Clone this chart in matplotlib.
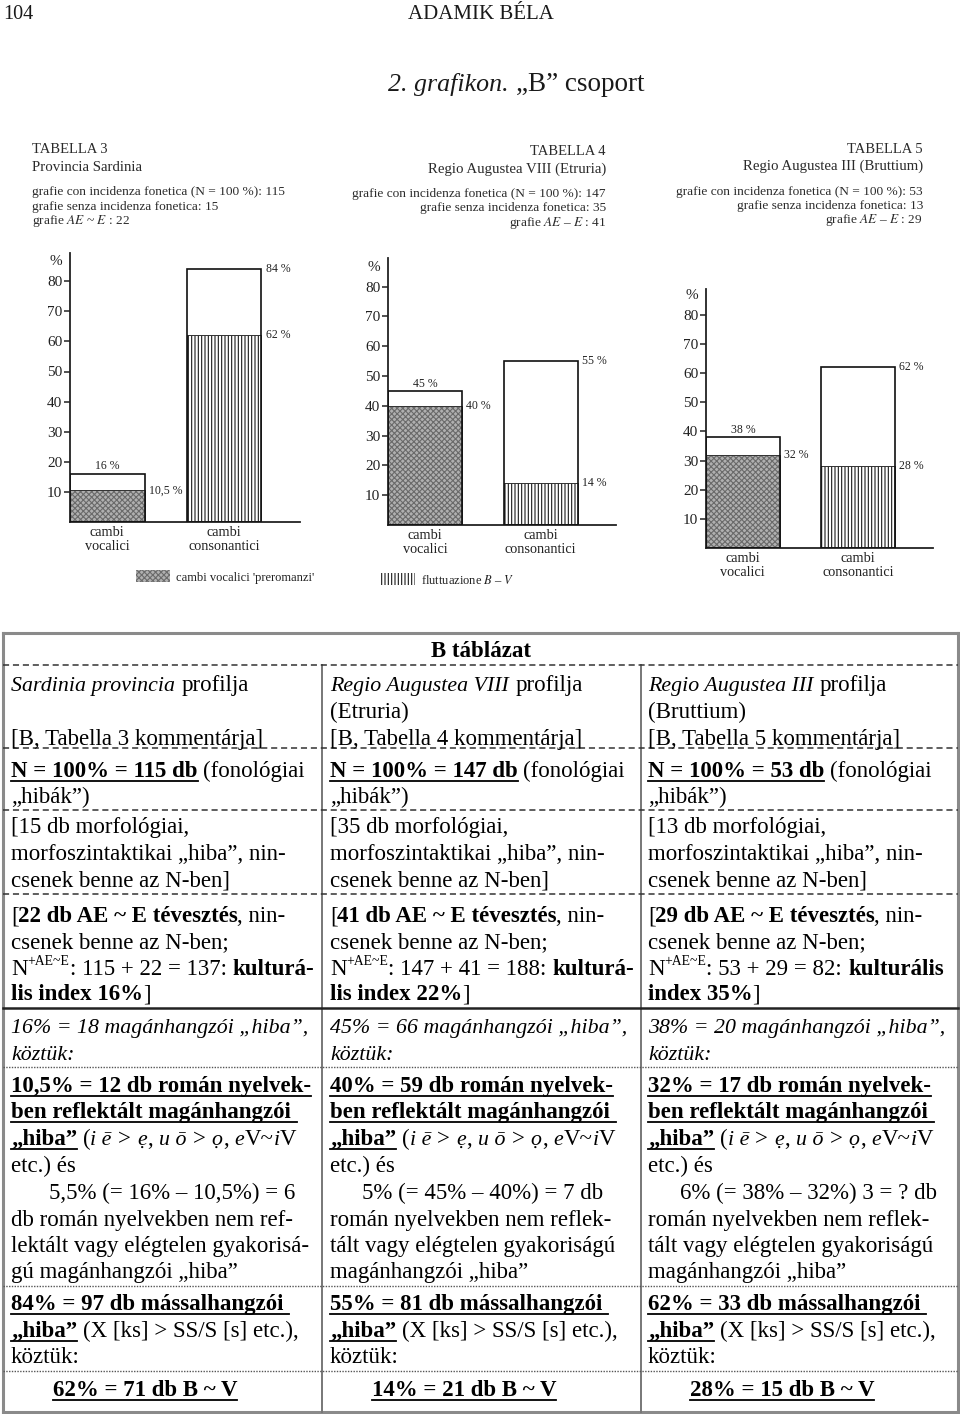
import matplotlib
matplotlib.use('Agg')
import matplotlib.pyplot as plt
from matplotlib.patches import Patch
from matplotlib.lines import Line2D

plt.rcParams['font.family'] = ['Liberation Serif', 'DejaVu Serif']
plt.rcParams['mathtext.fontset'] = 'stix'
plt.rcParams['hatch.linewidth'] = 0.8

# ---------------- data ----------------
categories = ['cambi\nvocalici', 'cambi\nconsonantici']
yticks = [10, 20, 30, 40, 50, 60, 70, 80]
tab_titles = ['TABELLA 3', 'TABELLA 4', 'TABELLA 5']
regions = ['Provincia Sardinia', 'Regio Augustea VIII (Etruria)', 'Regio Augustea III (Bruttium)']
n_fonetica = [115, 147, 53]
n_senza = [15, 35, 13]
n_ae = [22, 41, 29]
ae_sign = ['~', '–', '–']
total_vals = [[16, 84], [45, 55], [38, 62]]
sub_vals = [[10.5, 62], [40, 14], [32, 28]]
legend_labels = ["cambi vocalici 'preromanzi'", 'fluttuazione $B$ – $V$']

Q1, Q2 = '\u201e', '\u201d'
HV = [(Q1 + 'hiba' + Q2, 'bu'), (' (', ''), ('i ē', 'i'), (' > ', ''), ('ẹ', 'i'), (', ', ''),
      ('u ō', 'i'), (' > ', ''), ('ọ', 'i'), (', ', ''), ('e', 'i'), ('V~', ''), ('i', 'i'), ('V', '')]

col1 = [
    [('Sardinia provincia', 'i'), (' profilja', '')],
    [],
    [('[B, Tabella 3 kommentárja]', '')],
    [('N = 100% = 115 db', 'bu'), (' (fonológiai', '')],
    [(Q1 + 'hibák' + Q2 + ')', '')],
    [('[15 db morfológiai,', '')],
    [('morfoszintaktikai ' + Q1 + 'hiba' + Q2 + ', nin-', '')],
    [('csenek benne az N-ben]', '')],
    [('[', ''), ('22 db AE ~ E tévesztés', 'b'), (', nin-', '')],
    [('csenek benne az N-ben;', '')],
    [('N', ''), ('+AE~E', 's'), (': 115 + 22 = 137: ', ''), ('kulturá-', 'b')],
    [('lis index 16%', 'b'), (']', '')],
    [('16% = 18 magánhangzói ' + Q1 + 'hiba' + Q2 + ',', 'i')],
    [('köztük:', 'i')],
    [('10,5% = 12 db román nyelvek-', 'bu')],
    [('ben reflektált magánhangzói ', 'bu')],
    HV,
    [('etc.) és', '')],
    [('5,5% (= 16% – 10,5%) = 6', '')],
    [('db román nyelvekben nem ref-', '')],
    [('lektált vagy elégtelen gyakorisá-', '')],
    [('gú magánhangzói ' + Q1 + 'hiba' + Q2, '')],
    [('84% = 97 db mássalhangzói ', 'bu')],
    [(Q1 + 'hiba' + Q2, 'bu'), (' (X [ks] > SS/S [s] etc.),', '')],
    [('köztük:', '')],
    [('62% = 71 db B ~ V', 'bu')],
]
col2 = [
    [('Regio Augustea VIII', 'i'), (' profilja', '')],
    [('(Etruria)', '')],
    [('[B, Tabella 4 kommentárja]', '')],
    [('N = 100% = 147 db', 'bu'), (' (fonológiai', '')],
    [(Q1 + 'hibák' + Q2 + ')', '')],
    [('[35 db morfológiai,', '')],
    [('morfoszintaktikai ' + Q1 + 'hiba' + Q2 + ', nin-', '')],
    [('csenek benne az N-ben]', '')],
    [('[', ''), ('41 db AE ~ E tévesztés', 'b'), (', nin-', '')],
    [('csenek benne az N-ben;', '')],
    [('N', ''), ('+AE~E', 's'), (': 147 + 41 = 188: ', ''), ('kulturá-', 'b')],
    [('lis index 22%', 'b'), (']', '')],
    [('45% = 66 magánhangzói ' + Q1 + 'hiba' + Q2 + ',', 'i')],
    [('köztük:', 'i')],
    [('40% = 59 db román nyelvek-', 'bu')],
    [('ben reflektált magánhangzói ', 'bu')],
    HV,
    [('etc.) és', '')],
    [('5% (= 45% – 40%) = 7 db', '')],
    [('román nyelvekben nem reflek-', '')],
    [('tált vagy elégtelen gyakoriságú', '')],
    [('magánhangzói ' + Q1 + 'hiba' + Q2, '')],
    [('55% = 81 db mássalhangzói ', 'bu')],
    [(Q1 + 'hiba' + Q2, 'bu'), (' (X [ks] > SS/S [s] etc.),', '')],
    [('köztük:', '')],
    [('14% = 21 db B ~ V', 'bu')],
]
col3 = [
    [('Regio Augustea III', 'i'), (' profilja', '')],
    [('(Bruttium)', '')],
    [('[B, Tabella 5 kommentárja]', '')],
    [('N = 100% = 53 db', 'bu'), (' (fonológiai', '')],
    [(Q1 + 'hibák' + Q2 + ')', '')],
    [('[13 db morfológiai,', '')],
    [('morfoszintaktikai ' + Q1 + 'hiba' + Q2 + ', nin-', '')],
    [('csenek benne az N-ben]', '')],
    [('[', ''), ('29 db AE ~ E tévesztés', 'b'), (', nin-', '')],
    [('csenek benne az N-ben;', '')],
    [('N', ''), ('+AE~E', 's'), (': 53 + 29 = 82: ', ''), ('kulturális', 'b')],
    [('index 35%', 'b'), (']', '')],
    [('38% = 20 magánhangzói ' + Q1 + 'hiba' + Q2 + ',', 'i')],
    [('köztük:', 'i')],
    [('32% = 17 db román nyelvek-', 'bu')],
    [('ben reflektált magánhangzói ', 'bu')],
    HV,
    [('etc.) és', '')],
    [('6% (= 38% – 32%) 3 = ? db', '')],
    [('román nyelvekben nem reflek-', '')],
    [('tált vagy elégtelen gyakoriságú', '')],
    [('magánhangzói ' + Q1 + 'hiba' + Q2, '')],
    [('62% = 33 db mássalhangzói ', 'bu')],
    [(Q1 + 'hiba' + Q2, 'bu'), (' (X [ks] > SS/S [s] etc.),', '')],
    [('köztük:', '')],
    [('28% = 15 db B ~ V', 'bu')],
]
columns = [col1, col2, col3]

# ---------------- layout ----------------
W, H = 960, 1414
fig = plt.figure(figsize=(W / 100, H / 100), dpi=100, facecolor='white')
renderer = fig.canvas.get_renderer()


def FX(x):
    return x / W


def FY(y):
    return 1 - y / H


INK = '#1a1a1a'

# page header
fig.text(FX(3), FY(19), '104', fontsize=14.5, ha='left', va='baseline', color=INK)
fig.text(FX(481), FY(19), 'ADAMIK BÉLA', fontsize=15, ha='center', va='baseline', color=INK)

# ---------- rich text helper ----------
_cache = {}


def tw(s, kw):
    key = (s, tuple(sorted(kw.items())))
    if key not in _cache:
        t = fig.text(0, 0, s, **kw)
        _cache[key] = t.get_window_extent(renderer).width
        t.remove()
    return _cache[key]


def rich(x, y, runs, size, align='left', color='black'):
    items = []
    total = 0.0
    for txt, st in runs:
        sup = 's' in st
        ital = 'i' in st
        fs = size * 0.6 if sup else (size * 0.955 if ital else size)
        kw = dict(fontsize=fs,
                  fontweight='bold' if 'b' in st else 'normal',
                  fontstyle='italic' if ital else 'normal')
        core = txt.strip(' ')
        lead = len(txt) - len(txt.lstrip(' '))
        trail = len(txt) - len(txt.rstrip(' '))
        sw = tw('x x', kw) - tw('xx', kw)
        cw = tw(core, kw) if core else 0.0
        pad = 0.6 if ital else 0.0
        if core == '[':
            pad -= 1.0
        items.append((core, kw, lead * sw, cw, trail * sw + pad, st))
        total += lead * sw + cw + trail * sw + pad
    cur = x - total / 2 if align == 'center' else x
    for core, kw, lw_, cw, tr_, st in items:
        start = cur
        cur += lw_
        if core:
            yy = y - (size * 1.389 * 0.42 if 's' in st else 0)
            fig.text(FX(cur), FY(yy), core, ha='left', va='baseline', color=color, **kw)
        cur += cw + tr_
        if 'u' in st:
            fig.add_artist(Line2D([FX(start), FX(cur)], [FY(y + 3.5)] * 2,
                                  color=color, lw=1.3))


# title
rich(516, 91, [('2. grafikon.', 'i'), (' ' + Q1 + 'B' + Q2 + ' csoport', '')], 19.5, align='center', color=INK)

# ---------------- charts ----------------
chart_px = [(70, 300, 522, 253, 3.01), (388, 616, 525, 258, 2.98), (706, 933, 548, 289, 2.914)]
head_x = [(32, 'left'), (606, 'right'), (923, 'right')]
head_y = [(153, 171, 195, 210, 224), (155, 173, 197, 211, 226), (153, 170, 195, 209, 223)]
HDR = '#2b2b2b'

stip = dict(facecolor='#b0b0b0', edgecolor='#6a6a6a', hatch='xxxxxx', linewidth=0)
vert = dict(facecolor='white', edgecolor='#1a1a1a', hatch='|||||', linewidth=0)

for i in range(3):
    l, r, b, t, sc = chart_px[i]
    ax = fig.add_axes([FX(l), FY(b), (r - l) / W, (b - t) / H])
    ax.set_xlim(-0.32, 1.65)
    ax.set_ylim(0, (b - t) / sc)
    xs = [0, 1]
    ax.bar(xs, total_vals[i], width=0.64, color='white', edgecolor='none', zorder=1)
    ax.bar(xs[0], sub_vals[i][0], width=0.64, zorder=2, **stip)
    ax.bar(xs[1], sub_vals[i][1], width=0.64, zorder=2, **vert)
    ax.bar(xs, sub_vals[i], width=0.64, fill=False, edgecolor='#333333', linewidth=0.7, zorder=3)
    ax.bar(xs, total_vals[i], width=0.64, fill=False, edgecolor='#111111', linewidth=1.2, zorder=4)
    for sp in ('top', 'right'):
        ax.spines[sp].set_visible(False)
    for sp in ('left', 'bottom'):
        ax.spines[sp].set_linewidth(1.3)
        ax.spines[sp].set_color('#222222')
    ax.set_yticks(yticks)
    ax.set_yticklabels([str(v) for v in yticks])
    ax.tick_params(axis='y', direction='out', length=4.5, width=1.1, pad=1, labelsize=11,
                   colors='#222222')
    ax.set_xticks(xs)
    ax.set_xticklabels(categories)
    ax.tick_params(axis='x', length=0, pad=3, labelsize=10.3, colors='#222222')
    for lb in ax.get_xticklabels():
        lb.set_linespacing(1.08)
    ax.annotate('%', xy=(0, 86.5), xycoords=('axes fraction', 'data'), xytext=(-5.5, 0),
                textcoords='offset points', ha='right', va='center', fontsize=11, color='#222222')

    def lab(v):
        return f'{v:g}'.replace('.', ',') + ' %'

    ax.annotate(lab(total_vals[i][0]), xy=(0, total_vals[i][0]), xytext=(0, 1),
                textcoords='offset points', ha='center', va='bottom', fontsize=8.5, color='#222222')
    ax.annotate(lab(sub_vals[i][0]), xy=(0.32, sub_vals[i][0]), xytext=(3, 0),
                textcoords='offset points', ha='left', va='center', fontsize=8.5, color='#222222')
    ax.annotate(lab(total_vals[i][1]), xy=(1.32, total_vals[i][1]), xytext=(3, 0),
                textcoords='offset points', ha='left', va='center', fontsize=8.5, color='#222222')
    ax.annotate(lab(sub_vals[i][1]), xy=(1.32, sub_vals[i][1]), xytext=(3, 0),
                textcoords='offset points', ha='left', va='center', fontsize=8.5, color='#222222')

    hx, ha = head_x[i]
    ys = head_y[i]
    fig.text(FX(hx), FY(ys[0]), tab_titles[i], ha=ha, va='baseline', fontsize=10.5, color=HDR)
    fig.text(FX(hx), FY(ys[1]), regions[i], ha=ha, va='baseline', fontsize=10.7, color=HDR)
    fig.text(FX(hx), FY(ys[2]), f'grafie con incidenza fonetica (N = 100 %): {n_fonetica[i]}',
             ha=ha, va='baseline', fontsize=9.6, color=HDR)
    fig.text(FX(hx), FY(ys[3]), f'grafie senza incidenza fonetica: {n_senza[i]}',
             ha=ha, va='baseline', fontsize=9.6, color=HDR)
    fig.text(FX(hx), FY(ys[4]), f'grafie $AE$ {ae_sign[i]} $E$ : {n_ae[i]}',
             ha=ha, va='baseline', fontsize=9.6, color=HDR)

# legends
fig.legend(handles=[Patch(**stip)], labels=[legend_labels[0]], loc='center left',
           bbox_to_anchor=(FX(136), FY(577)), frameon=False, fontsize=9, handlelength=2.7,
           handleheight=1.1, handletextpad=0.5, borderpad=0, borderaxespad=0, labelcolor='#222222')
fig.legend(handles=[Patch(**vert)], labels=[legend_labels[1]], loc='center left',
           bbox_to_anchor=(FX(381), FY(580)), frameon=False, fontsize=9, handlelength=2.7,
           handleheight=1.1, handletextpad=0.5, borderpad=0, borderaxespad=0, labelcolor='#222222')

# ---------------- table ----------------
GRAY = '#8a8a8a'
L_, R_, T_, B_ = 3, 958, 633, 1412


def hline(y, x0=L_, x1=R_, **kw):
    fig.add_artist(Line2D([FX(x0), FX(x1)], [FY(y)] * 2, **kw))


def vline(x, y0, y1, **kw):
    fig.add_artist(Line2D([FX(x)] * 2, [FY(y0), FY(y1)], **kw))


hline(T_, color=GRAY, lw=2.2)
hline(B_, color=GRAY, lw=2.2)
vline(L_, T_, B_, color=GRAY, lw=2.2)
vline(R_, T_, B_, color=GRAY, lw=2.2)
vline(322, 665, B_, color='#777777', lw=1.4)
vline(641, 665, B_, color='#777777', lw=1.4)
for y in (665, 748, 810, 894):
    hline(y, color='#333333', lw=1.1, linestyle=(0, (4, 2.5)))
hline(1008, color='#222222', lw=1.8)
for y in (1067, 1286, 1371):
    hline(y, color='#555555', lw=1.0, linestyle=(0, (1, 1)))

TS = 16.5
rich(481, 657, [('B táblázat', 'b')], TS, align='center')

baselines = [691, 718, 745, 777, 803, 833, 860, 886, 922, 948, 975, 1000, 1033, 1060,
             1092, 1118, 1145, 1172, 1199, 1226, 1252, 1278, 1310, 1337, 1363, 1396]
col_x = [11, 330, 648]
indents = [38, 32, 32]
centers = [145, 464, 782]
for c, col in enumerate(columns):
    for k, runs in enumerate(col):
        if not runs:
            continue
        if k == 25:
            rich(centers[c], baselines[k], runs, TS, align='center')
        elif k == 18:
            rich(col_x[c] + indents[c], baselines[k], runs, TS)
        else:
            rich(col_x[c], baselines[k], runs, TS)

fig.savefig('out.png', dpi=100, facecolor='white')
